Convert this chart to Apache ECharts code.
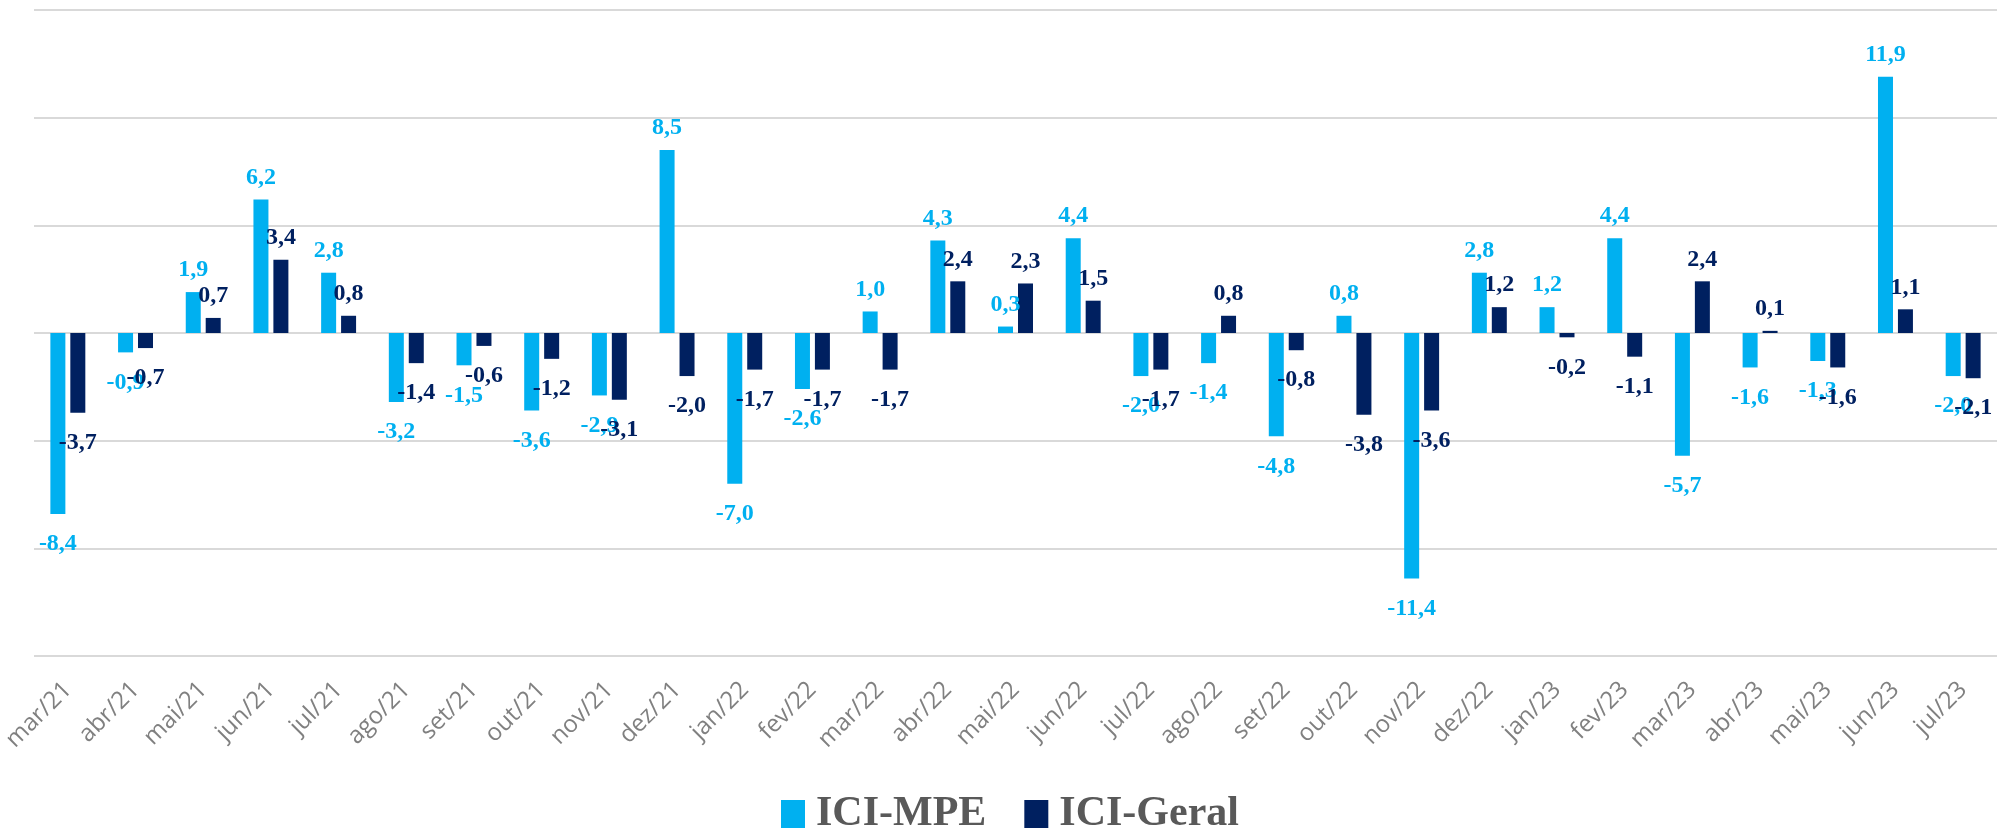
<!DOCTYPE html>
<html>
<head>
<meta charset="utf-8">
<script src="https://cdn.jsdelivr.net/npm/echarts@6/dist/echarts.min.js"></script>
<style>
  html, body { margin:0; padding:0; background:#fff; }
  #chart { width:1997px; height:830px; }
</style>
</head>
<body>
<div id="chart"></div>
<script>
// meses
const months = [
  'mar/21','abr/21','mai/21','jun/21','jul/21','ago/21','set/21','out/21','nov/21','dez/21',
  'jan/22','fev/22','mar/22','abr/22','mai/22','jun/22','jul/22','ago/22','set/22','out/22','nov/22','dez/22',
  'jan/23','fev/23','mar/23','abr/23','mai/23','jun/23','jul/23'
]

// ICI-MPE
const iciMpe = [
  -8.4, -0.9, 1.9, 6.2, 2.8, -3.2, -1.5, -3.6, -2.9, 8.5,
  -7.0, -2.6, 1.0, 4.3, 0.3, 4.4, -2.0, -1.4, -4.8, 0.8, -11.4, 2.8,
  1.2, 4.4, -5.7, -1.6, -1.3, 11.9, -2.0
]

// ICI-Geral
const iciGeral = [
  -3.7, -0.7, 0.7, 3.4, 0.8, -1.4, -0.6, -1.2, -3.1, -2.0,
  -1.7, -1.7, -1.7, 2.4, 2.3, 1.5, -1.7, 0.8, -0.8, -3.8, -3.6, 1.2,
  -0.2, -1.1, 2.4, 0.1, -1.6, 1.1, -2.1
]

const LIGHT = '#00B0F0'
const DARK  = '#002060'

// rótulo acima p/ positivos, abaixo p/ negativos
const toItems = vals => vals.map(v => ({
  value: v,
  label: { position: v < 0 ? 'bottom' : 'top', distance: v < 0 ? 18 : 10 }
}))

const fmt = p => p.value.toFixed(1).replace('.', ',')

const labelStyle = color => ({
  show: true,
  formatter: fmt,
  color: color,
  fontFamily: 'Liberation Serif',
  fontWeight: 'bold',
  fontSize: 24
})

const chart = echarts.init(document.getElementById('chart'))
chart.setOption({
  animation: false,
  grid: { left: 25, right: -18, top: 10, bottom: 174 },
  legend: {
    top: 788,
    left: 776,
    icon: 'rect',
    itemWidth: 24,
    itemHeight: 28,
    itemGap: 38,
    textStyle: { fontFamily: 'Liberation Serif', fontWeight: 'bold', fontSize: 42, color: '#595959', padding: [0, 0, 0, 6] },
    data: ['ICI-MPE', 'ICI-Geral']
  },
  xAxis: {
    type: 'category',
    data: months,
    axisLine: { show: false, onZero: false },
    axisTick: { show: false },
    axisLabel: {
      rotate: 45,
      margin: 30,
      color: '#808080',
      fontFamily: 'Open Sans',
      fontSize: 24
    }
  },
  yAxis: {
    type: 'value',
    min: -15,
    max: 15,
    interval: 5,
    axisLabel: { show: false },
    axisLine: { show: false },
    axisTick: { show: false },
    splitLine: { lineStyle: { color: '#d9d9d9', width: 2 } }
  },
  series: [
    {
      name: 'ICI-MPE',
      type: 'bar',
      barWidth: 15,
      barGap: '33%',
      itemStyle: { color: LIGHT },
      label: labelStyle(LIGHT),
      data: toItems(iciMpe)
    },
    {
      name: 'ICI-Geral',
      type: 'bar',
      barWidth: 15,
      barGap: '33%',
      itemStyle: { color: DARK },
      label: labelStyle(DARK),
      data: toItems(iciGeral)
    }
  ]
})
</script>
</body>
</html>
